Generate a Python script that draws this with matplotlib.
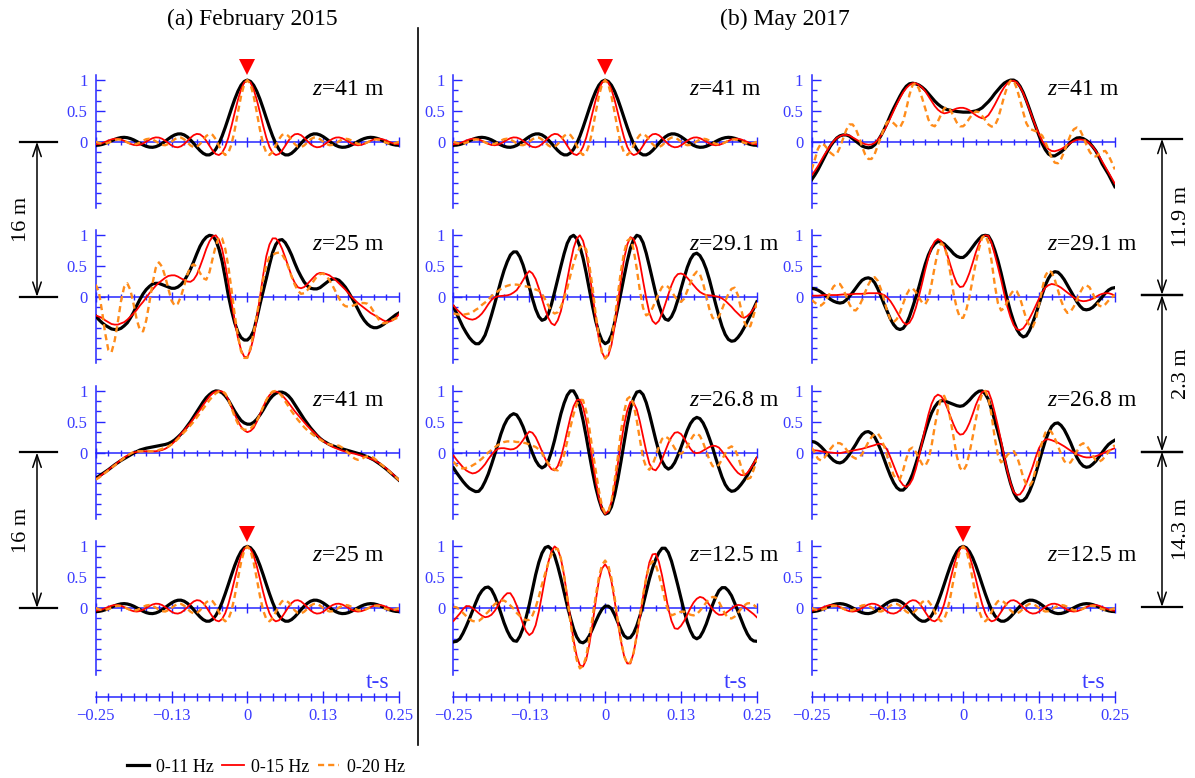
import numpy as np
import matplotlib
matplotlib.use("Agg")
import matplotlib.pyplot as plt
import matplotlib.transforms as mtransforms
from matplotlib.lines import Line2D
from matplotlib.patches import FancyArrowPatch
from matplotlib.ticker import FixedLocator, MultipleLocator, NullFormatter, FixedFormatter

plt.rcParams['font.family'] = ['Liberation Serif', 'DejaVu Serif']
plt.rcParams['mathtext.fontset'] = 'custom'
plt.rcParams['mathtext.rm'] = 'Liberation Serif'
plt.rcParams['mathtext.it'] = 'Liberation Serif:italic'

# ---------------------------------------------------------------- lag grids (s)
lag_192 = np.linspace(-0.25, 0.25, 97)     # 1/192 s spacing
lag_half = np.linspace(0.0, 0.25, 49)      # one-sided lags, 1/192 s spacing

band_labels = ['0-11 Hz', '0-15 Hz', '0-20 Hz']
x_tick_values = [-0.25, -0.125, 0.0, 0.125, 0.25]
x_tick_labels = ['\u22120.25', '\u22120.13', '0', '0.13', '0.25']
y_tick_values = [0.0, 0.5, 1.0]
y_tick_labels = ['0', '0.5', '1']

# ---------------------------------------------------------------- autocorrelations (one-sided)
acf_011 = [1.0, 0.978, 0.916, 0.817, 0.689, 0.541, 0.385, 0.232, 0.090, -0.030,
           -0.123, -0.184, -0.214, -0.214, -0.188, -0.143, -0.087, -0.027, 0.030, 0.077,
           0.110, 0.127, 0.126, 0.110, 0.082, 0.046, 0.007, -0.030, -0.060, -0.081,
           -0.091, -0.088, -0.075, -0.053, -0.026, 0.003, 0.030, 0.051, 0.065, 0.071,
           0.067, 0.055, 0.037, 0.015, -0.008, -0.029, -0.045, -0.055, -0.058]
acf_015 = [1.0, 0.960, 0.847, 0.676, 0.471, 0.259, 0.066, -0.085, -0.180, -0.217,
           -0.200, -0.143, -0.065, 0.015, 0.081, 0.120, 0.127, 0.106, 0.063, 0.011,
           -0.039, -0.075, -0.091, -0.085, -0.060, -0.024, 0.015, 0.048, 0.067, 0.070,
           0.057, 0.031, 0.000, -0.029, -0.050, -0.058, -0.052, -0.035, -0.011, 0.015,
           0.036, 0.048, 0.048, 0.037, 0.018, -0.004, -0.025, -0.038, -0.042]
acf_020 = [1.0, 0.930, 0.738, 0.471, 0.191, -0.040, -0.180, -0.216, -0.165, -0.065,
           0.040, 0.110, 0.127, 0.093, 0.028, -0.039, -0.083, -0.089, -0.060, -0.011,
           0.038, 0.067, 0.067, 0.040, 0.000, -0.037, -0.057, -0.052, -0.027, 0.007,
           0.036, 0.049, 0.041, 0.018, -0.012, -0.035, -0.042, -0.033, -0.010, 0.015,
           0.033, 0.037, 0.026, 0.005, -0.017, -0.031, -0.032, -0.020, 0.000]

# ---------------------------------------------------------------- Feb 2015, source 41 m -> 25 m
feb_src41_z25_011 = [-0.31, -0.37, -0.42, -0.46, -0.49, -0.52, -0.53, -0.53, -0.51, -0.47,
                     -0.42, -0.34, -0.25, -0.14, -0.04, 0.05, 0.12, 0.17, 0.21, 0.22,
                     0.22, 0.20, 0.18, 0.16, 0.14, 0.14, 0.16, 0.20, 0.26, 0.35,
                     0.45, 0.57, 0.70, 0.82, 0.91, 0.97, 1.00, 0.99, 0.92, 0.78,
                     0.58, 0.31, 0.02, -0.22, -0.42, -0.57, -0.66, -0.70, -0.70, -0.65,
                     -0.55, -0.35, -0.12, 0.09, 0.30, 0.52, 0.72, 0.85, 0.92, 0.93,
                     0.88, 0.79, 0.68, 0.55, 0.43, 0.33, 0.24, 0.18, 0.14, 0.13,
                     0.13, 0.15, 0.19, 0.23, 0.27, 0.29, 0.29, 0.27, 0.22, 0.16,
                     0.08, -0.01, -0.10, -0.20, -0.30, -0.38, -0.44, -0.48, -0.50, -0.50,
                     -0.48, -0.45, -0.41, -0.37, -0.33, -0.29, -0.26]
feb_src41_z25_015 = [-0.30, -0.32, -0.34, -0.38, -0.41, -0.44, -0.45, -0.45, -0.43, -0.41,
                     -0.37, -0.32, -0.27, -0.21, -0.14, -0.08, -0.01, 0.06, 0.12, 0.18,
                     0.23, 0.27, 0.31, 0.34, 0.35, 0.35, 0.33, 0.30, 0.275, 0.25,
                     0.245, 0.28, 0.36, 0.49, 0.63, 0.78, 0.90, 0.98, 1.00, 0.93,
                     0.78, 0.53, 0.23, -0.09, -0.39, -0.66, -0.86, -0.97, -0.98, -0.86,
                     -0.65, -0.35, -0.005, 0.35, 0.66, 0.85, 0.95, 0.95, 0.89, 0.78,
                     0.64, 0.49, 0.34, 0.23, 0.155, 0.14, 0.16, 0.21, 0.265, 0.32,
                     0.37, 0.39, 0.385, 0.37, 0.35, 0.31, 0.27, 0.22, 0.17, 0.12,
                     0.06, 0.00, -0.05, -0.10, -0.14, -0.18, -0.22, -0.26, -0.29, -0.32,
                     -0.35, -0.38, -0.40, -0.40, -0.38, -0.34, -0.28]
feb_src41_z25_020 = [0.20, 0.08, -0.23, -0.59, -0.86, -0.90, -0.71, -0.41, -0.07, 0.16,
                     0.22, 0.11, -0.12, -0.37, -0.54, -0.56, -0.38, -0.09, 0.22, 0.47,
                     0.56, 0.49, 0.33, 0.13, -0.06, -0.14, -0.11, 0.01, 0.18, 0.36,
                     0.49, 0.53, 0.485, 0.39, 0.305, 0.28, 0.40, 0.62, 0.83, 0.97,
                     0.95, 0.78, 0.49, 0.11, -0.29, -0.63, -0.88, -0.99, -0.99, -0.83,
                     -0.58, -0.29, -0.01, 0.29, 0.52, 0.65, 0.68, 0.71, 0.72, 0.69,
                     0.60, 0.48, 0.33, 0.20, 0.10, 0.05, 0.06, 0.11, 0.18, 0.26,
                     0.33, 0.37, 0.38, 0.34, 0.27, 0.18, 0.08, -0.02, -0.11, -0.15,
                     -0.16, -0.15, -0.13, -0.11, -0.10, -0.10, -0.11, -0.16, -0.24, -0.32,
                     -0.40, -0.43, -0.42, -0.40, -0.37, -0.35, -0.33]

# ---------------------------------------------------------------- Feb 2015, source 25 m -> 41 m
feb_src25_z41_011 = [-0.42, -0.385, -0.35, -0.315, -0.28, -0.24, -0.20, -0.165, -0.13, -0.10,
                     -0.07, -0.04, -0.01, 0.015, 0.04, 0.055, 0.07, 0.08, 0.09, 0.10,
                     0.11, 0.12, 0.13, 0.145, 0.17, 0.205, 0.25, 0.30, 0.36, 0.43,
                     0.50, 0.58, 0.66, 0.74, 0.82, 0.89, 0.94, 0.98, 1.00, 0.995,
                     0.97, 0.92, 0.85, 0.76, 0.67, 0.59, 0.52, 0.48, 0.46, 0.46,
                     0.49, 0.54, 0.61, 0.69, 0.78, 0.86, 0.92, 0.96, 0.98, 0.98,
                     0.96, 0.92, 0.86, 0.78, 0.70, 0.62, 0.54, 0.47, 0.40, 0.34,
                     0.28, 0.23, 0.19, 0.16, 0.13, 0.11, 0.09, 0.075, 0.06, 0.045,
                     0.03, 0.015, 0.00, -0.015, -0.03, -0.05, -0.07, -0.095, -0.12, -0.155,
                     -0.19, -0.23, -0.27, -0.315, -0.36, -0.405, -0.45]
feb_src25_z41_015 = [-0.43, -0.40, -0.36, -0.32, -0.28, -0.24, -0.20, -0.16, -0.12, -0.08,
                     -0.05, -0.02, 0.00, 0.01, 0.02, 0.02, 0.02, 0.02, 0.02, 0.02,
                     0.03, 0.04, 0.06, 0.09, 0.13, 0.18, 0.24, 0.30, 0.36, 0.42,
                     0.48, 0.55, 0.62, 0.69, 0.77, 0.84, 0.91, 0.96, 0.99, 1.00,
                     0.99, 0.94, 0.86, 0.74, 0.62, 0.51, 0.42, 0.36, 0.33, 0.35,
                     0.40, 0.50, 0.62, 0.74, 0.85, 0.93, 0.98, 0.99, 0.97, 0.93,
                     0.87, 0.81, 0.74, 0.67, 0.61, 0.55, 0.49, 0.43, 0.38, 0.33,
                     0.28, 0.23, 0.19, 0.15, 0.12, 0.09, 0.07, 0.05, 0.03, 0.015,
                     0.00, -0.01, -0.02, -0.035, -0.05, -0.065, -0.08, -0.10, -0.12, -0.15,
                     -0.18, -0.22, -0.26, -0.30, -0.35, -0.40, -0.45]
feb_src25_z41_020 = [-0.44, -0.41, -0.37, -0.33, -0.29, -0.25, -0.21, -0.17, -0.13, -0.09,
                     -0.05, -0.02, 0.01, 0.02, 0.02, 0.02, 0.02, 0.02, 0.02, 0.03,
                     0.04, 0.06, 0.08, 0.10, 0.13, 0.17, 0.22, 0.27, 0.33, 0.38,
                     0.44, 0.50, 0.57, 0.64, 0.71, 0.78, 0.85, 0.91, 0.96, 0.99,
                     1.00, 0.96, 0.86, 0.72, 0.58, 0.47, 0.40, 0.37, 0.37, 0.39,
                     0.44, 0.52, 0.62, 0.74, 0.85, 0.94, 0.99, 1.00, 0.97, 0.91,
                     0.83, 0.75, 0.67, 0.60, 0.53, 0.47, 0.41, 0.36, 0.32, 0.28,
                     0.25, 0.21, 0.18, 0.15, 0.13, 0.12, 0.12, 0.11, 0.08, 0.04,
                     -0.01, -0.06, -0.10, -0.12, -0.11, -0.08, -0.06, -0.06, -0.09, -0.13,
                     -0.18, -0.22, -0.27, -0.31, -0.36, -0.40, -0.45]

# ---------------------------------------------------------------- May 2017, source 41 m
may_src41_z291_011 = [-0.16, -0.27, -0.38, -0.49, -0.58, -0.66, -0.72, -0.76, -0.76, -0.71,
                      -0.62, -0.47, -0.30, -0.12, 0.07, 0.26, 0.43, 0.57, 0.68, 0.73,
                      0.73, 0.65, 0.52, 0.35, 0.16, -0.03, -0.20, -0.32, -0.38, -0.36,
                      -0.28, -0.12, 0.08, 0.29, 0.50, 0.70, 0.87, 0.97, 1.00, 0.945,
                      0.82, 0.63, 0.39, 0.12, -0.15, -0.39, -0.58, -0.71, -0.76, -0.73,
                      -0.62, -0.42, -0.18, 0.07, 0.33, 0.58, 0.79, 0.93, 1.00, 0.98,
                      0.88, 0.71, 0.50, 0.28, 0.06, -0.13, -0.28, -0.36, -0.38, -0.32,
                      -0.21, -0.05, 0.13, 0.31, 0.48, 0.61, 0.69, 0.71, 0.67, 0.58,
                      0.45, 0.28, 0.08, -0.12, -0.31, -0.48, -0.61, -0.69, -0.72, -0.71,
                      -0.66, -0.59, -0.50, -0.40, -0.30, -0.19, -0.08]
may_src41_z291_015 = [-0.14, -0.20, -0.25, -0.30, -0.34, -0.36, -0.37, -0.355, -0.32, -0.27,
                      -0.20, -0.12, -0.05, -0.01, 0.01, 0.015, 0.02, 0.025, 0.04, 0.07,
                      0.11, 0.185, 0.27, 0.36, 0.42, 0.38, 0.29, 0.14, -0.03, -0.20,
                      -0.34, -0.43, -0.46, -0.38, -0.23, 0.01, 0.28, 0.55, 0.79, 0.945,
                      1.00, 0.91, 0.71, 0.40, 0.04, -0.34, -0.68, -0.90, -1.00, -0.95,
                      -0.78, -0.48, -0.11, 0.275, 0.62, 0.85, 0.97, 0.94, 0.80, 0.55,
                      0.26, -0.02, -0.26, -0.39, -0.44, -0.39, -0.27, -0.12, 0.04, 0.19,
                      0.31, 0.37, 0.38, 0.36, 0.31, 0.25, 0.19, 0.13, 0.08, 0.05,
                      0.03, 0.025, 0.02, 0.01, 0.00, -0.025, -0.06, -0.11, -0.16, -0.22,
                      -0.27, -0.32, -0.34, -0.31, -0.26, -0.19, -0.10]
may_src41_z291_020 = [-0.27, -0.28, -0.29, -0.29, -0.28, -0.27, -0.25, -0.21, -0.18, -0.13,
                      -0.09, -0.045, 0.01, 0.05, 0.09, 0.13, 0.16, 0.18, 0.195, 0.20,
                      0.20, 0.19, 0.18, 0.17, 0.16, 0.14, 0.12, 0.10, 0.05, -0.04,
                      -0.14, -0.23, -0.27, -0.25, -0.16, -0.03, 0.14, 0.35, 0.54, 0.70,
                      0.80, 0.84, 0.77, 0.51, 0.16, -0.28, -0.63, -0.91, -1.00, -0.92,
                      -0.70, -0.36, 0.03, 0.42, 0.72, 0.91, 0.95, 0.77, 0.46, 0.10,
                      -0.18, -0.30, -0.27, -0.18, -0.06, 0.06, 0.16, 0.19, 0.16, 0.09,
                      0.01, -0.06, -0.08, -0.03, 0.10, 0.23, 0.35, 0.41, 0.37, 0.22,
                      0.01, -0.20, -0.34, -0.37, -0.32, -0.20, -0.07, 0.05, 0.13, 0.15,
                      0.03, -0.19, -0.40, -0.51, -0.47, -0.30, -0.10]

may_src41_z268_011 = [-0.25, -0.33, -0.40, -0.47, -0.53, -0.58, -0.61, -0.635, -0.63, -0.57,
                      -0.47, -0.35, -0.20, -0.04, 0.13, 0.30, 0.44, 0.54, 0.60, 0.63,
                      0.61, 0.53, 0.42, 0.28, 0.13, -0.01, -0.13, -0.21, -0.25, -0.22,
                      -0.14, 0.01, 0.20, 0.42, 0.63, 0.80, 0.93, 1.00, 1.00, 0.91,
                      0.75, 0.525, 0.26, -0.03, -0.31, -0.56, -0.76, -0.92, -1.00, -0.98,
                      -0.88, -0.69, -0.44, -0.15, 0.16, 0.46, 0.71, 0.88, 0.98, 0.995,
                      0.94, 0.81, 0.63, 0.42, 0.21, 0.02, -0.14, -0.23, -0.27, -0.24,
                      -0.165, -0.05, 0.08, 0.22, 0.36, 0.47, 0.54, 0.57, 0.55, 0.48,
                      0.37, 0.23, 0.08, -0.09, -0.25, -0.40, -0.52, -0.595, -0.63, -0.62,
                      -0.58, -0.52, -0.45, -0.37, -0.28, -0.19, -0.10]
may_src41_z268_015 = [-0.05, -0.12, -0.18, -0.24, -0.29, -0.32, -0.34, -0.33, -0.30, -0.25,
                      -0.19, -0.11, -0.04, 0.02, 0.06, 0.07, 0.07, 0.06, 0.05, 0.055,
                      0.08, 0.13, 0.20, 0.28, 0.34, 0.32, 0.25, 0.14, 0.02, -0.10,
                      -0.20, -0.27, -0.29, -0.22, -0.08, 0.12, 0.35, 0.57, 0.75, 0.85,
                      0.86, 0.74, 0.52, 0.21, -0.13, -0.45, -0.73, -0.915, -1.00, -0.955,
                      -0.80, -0.52, -0.19, 0.145, 0.45, 0.68, 0.82, 0.81, 0.70, 0.50,
                      0.26, 0.02, -0.18, -0.27, -0.29, -0.22, -0.11, 0.02, 0.15, 0.25,
                      0.32, 0.33, 0.30, 0.23, 0.14, 0.06, 0.00, -0.01, 0.00, 0.03,
                      0.06, 0.09, 0.11, 0.105, 0.08, 0.02, -0.05, -0.125, -0.20, -0.27,
                      -0.33, -0.365, -0.37, -0.33, -0.26, -0.18, -0.08]
may_src41_z268_020 = [-0.15, -0.21, -0.25, -0.26, -0.25, -0.24, -0.21, -0.18, -0.14, -0.10,
                      -0.05, 0.00, 0.04, 0.08, 0.12, 0.145, 0.17, 0.18, 0.18, 0.18,
                      0.17, 0.17, 0.16, 0.15, 0.13, 0.11, 0.09, 0.05, -0.01, -0.095,
                      -0.18, -0.24, -0.28, -0.29, -0.20, -0.04, 0.18, 0.41, 0.62, 0.78,
                      0.86, 0.85, 0.67, 0.39, 0.04, -0.29, -0.61, -0.87, -0.98, -0.97,
                      -0.79, -0.45, -0.08, 0.34, 0.66, 0.87, 0.91, 0.78, 0.52, 0.21,
                      -0.09, -0.24, -0.28, -0.20, -0.06, 0.09, 0.22, 0.26, 0.23, 0.16,
                      0.07, 0.00, -0.02, 0.02, 0.10, 0.20, 0.28, 0.31, 0.27, 0.16,
                      0.02, -0.12, -0.22, -0.24, -0.20, -0.11, -0.02, 0.07, 0.10, 0.06,
                      -0.06, -0.22, -0.36, -0.43, -0.41, -0.28, -0.12]

may_src41_z125_011 = [-0.55, -0.54, -0.50, -0.41, -0.30, -0.18, -0.05, 0.08, 0.20, 0.28,
                      0.33, 0.34, 0.30, 0.20, 0.07, -0.085, -0.24, -0.37, -0.47, -0.53,
                      -0.54, -0.46, -0.33, -0.15, 0.06, 0.30, 0.54, 0.74, 0.89, 0.98,
                      1.00, 0.955, 0.85, 0.68, 0.48, 0.26, 0.04, -0.16, -0.34, -0.47,
                      -0.55, -0.565, -0.53, -0.45, -0.34, -0.22, -0.11, -0.02, 0.03, 0.03,
                      -0.01, -0.11, -0.23, -0.35, -0.45, -0.49, -0.48, -0.41, -0.29, -0.13,
                      0.05, 0.26, 0.47, 0.645, 0.79, 0.90, 0.97, 0.97, 0.90, 0.76,
                      0.57, 0.37, 0.16, -0.05, -0.23, -0.37, -0.47, -0.50, -0.47, -0.38,
                      -0.26, -0.11, 0.05, 0.18, 0.28, 0.33, 0.33, 0.28, 0.20, 0.08,
                      -0.05, -0.18, -0.31, -0.42, -0.50, -0.535, -0.54]
may_src41_z125_015 = [-0.21, -0.15, -0.09, -0.02, 0.03, 0.03, 0.00, -0.04, -0.085, -0.125,
                      -0.15, -0.14, -0.11, -0.05, 0.03, 0.12, 0.19, 0.24, 0.24, 0.16,
                      0.04, -0.11, -0.26, -0.38, -0.44, -0.40, -0.28, -0.06, 0.21, 0.49,
                      0.74, 0.92, 1.00, 0.955, 0.80, 0.53, 0.19, -0.18, -0.52, -0.78,
                      -0.93, -0.95, -0.84, -0.59, -0.26, 0.11, 0.44, 0.64, 0.71, 0.63,
                      0.43, 0.12, -0.23, -0.54, -0.78, -0.90, -0.90, -0.73, -0.46, -0.15,
                      0.18, 0.49, 0.74, 0.87, 0.88, 0.75, 0.53, 0.26, -0.01, -0.21,
                      -0.33, -0.34, -0.29, -0.21, -0.11, 0.00, 0.09, 0.15, 0.18, 0.165,
                      0.12, 0.05, -0.02, -0.075, -0.11, -0.11, -0.09, -0.05, -0.01, 0.03,
                      0.05, 0.045, 0.02, -0.02, -0.06, -0.10, -0.15]
may_src41_z125_020 = [0.02, 0.01, -0.03, -0.08, -0.13, -0.18, -0.21, -0.22, -0.21, -0.17,
                      -0.11, -0.06, 0.00, 0.06, 0.10, 0.12, 0.12, 0.09, 0.04, -0.01,
                      -0.08, -0.13, -0.17, -0.20, -0.19, -0.12, 0.01, 0.18, 0.38, 0.56,
                      0.73, 0.87, 0.95, 0.96, 0.80, 0.53, 0.16, -0.22, -0.58, -0.84,
                      -0.98, -0.94, -0.79, -0.49, -0.16, 0.19, 0.49, 0.70, 0.77, 0.69,
                      0.48, 0.17, -0.20, -0.52, -0.78, -0.91, -0.88, -0.73, -0.44, -0.13,
                      0.21, 0.49, 0.69, 0.76, 0.70, 0.54, 0.34, 0.11, -0.05, -0.12,
                      -0.10, -0.08, -0.06, -0.06, -0.08, -0.11, -0.12, -0.10, -0.045, 0.02,
                      0.09, 0.15, 0.18, 0.17, 0.10, 0.00, -0.10, -0.16, -0.17, -0.14,
                      -0.08, -0.015, 0.04, 0.075, 0.08, 0.05, 0.01]

# ---------------------------------------------------------------- May 2017, source 12.5 m
may_src125_z41_011 = [-0.62, -0.545, -0.46, -0.36, -0.26, -0.16, -0.07, 0.00, 0.06, 0.095,
                      0.11, 0.11, 0.09, 0.05, 0.01, -0.03, -0.07, -0.09, -0.10, -0.09,
                      -0.05, 0.015, 0.10, 0.20, 0.31, 0.43, 0.54, 0.64, 0.74, 0.83,
                      0.90, 0.94, 0.95, 0.94, 0.92, 0.885, 0.84, 0.78, 0.72, 0.66,
                      0.61, 0.57, 0.54, 0.52, 0.51, 0.50, 0.49, 0.485, 0.48, 0.48,
                      0.48, 0.49, 0.50, 0.52, 0.55, 0.60, 0.65, 0.71, 0.78, 0.84,
                      0.90, 0.95, 0.98, 1.00, 1.00, 0.97, 0.90, 0.80, 0.67, 0.53,
                      0.38, 0.24, 0.10, -0.03, -0.13, -0.20, -0.23, -0.23, -0.20, -0.165,
                      -0.12, -0.065, -0.01, 0.03, 0.06, 0.065, 0.05, 0.02, -0.02, -0.08,
                      -0.15, -0.25, -0.36, -0.445, -0.53, -0.63, -0.73]
may_src125_z41_015 = [-0.55, -0.48, -0.40, -0.31, -0.22, -0.14, -0.06, 0.01, 0.06, 0.09,
                      0.11, 0.11, 0.10, 0.07, 0.04, 0.01, -0.02, -0.04, -0.05, -0.045,
                      -0.02, 0.03, 0.10, 0.18, 0.28, 0.39, 0.50, 0.61, 0.71, 0.80,
                      0.87, 0.92, 0.95, 0.95, 0.92, 0.88, 0.82, 0.74, 0.66, 0.58,
                      0.52, 0.48, 0.46, 0.47, 0.49, 0.52, 0.54, 0.55, 0.55, 0.535,
                      0.51, 0.47, 0.43, 0.40, 0.38, 0.39, 0.43, 0.51, 0.60, 0.70,
                      0.80, 0.885, 0.95, 0.985, 0.99, 0.96, 0.89, 0.79, 0.66, 0.52,
                      0.38, 0.245, 0.12, 0.015, -0.07, -0.12, -0.15, -0.155, -0.14, -0.12,
                      -0.09, -0.055, -0.02, 0.01, 0.03, 0.035, 0.03, 0.01, -0.03, -0.08,
                      -0.15, -0.23, -0.32, -0.41, -0.50, -0.59, -0.68]
may_src125_z41_020 = [-0.46, -0.30, -0.12, -0.03, -0.05, -0.11, -0.18, -0.22, -0.20, -0.09,
                      0.05, 0.19, 0.28, 0.28, 0.21, 0.08, -0.08, -0.21, -0.28, -0.28,
                      -0.20, -0.06, 0.08, 0.23, 0.32, 0.34, 0.30, 0.25, 0.23, 0.33,
                      0.53, 0.76, 0.92, 0.95, 0.86, 0.71, 0.54, 0.36, 0.27, 0.25,
                      0.33, 0.44, 0.54, 0.56, 0.51, 0.41, 0.31, 0.25, 0.25, 0.30,
                      0.38, 0.45, 0.49, 0.48, 0.42, 0.35, 0.28, 0.245, 0.26, 0.37,
                      0.55, 0.74, 0.90, 0.99, 0.99, 0.86, 0.68, 0.48, 0.30, 0.21,
                      0.19, 0.17, 0.14, 0.10, 0.00, -0.13, -0.26, -0.34, -0.35, -0.28,
                      -0.16, -0.02, 0.11, 0.20, 0.23, 0.19, 0.08, -0.05, -0.16, -0.23,
                      -0.24, -0.20, -0.16, -0.15, -0.22, -0.33, -0.45]

may_src125_z291_011 = [0.14, 0.13, 0.11, 0.08, 0.04, 0.00, -0.04, -0.07, -0.09, -0.10,
                       -0.09, -0.05, 0.01, 0.07, 0.14, 0.21, 0.27, 0.30, 0.31, 0.29,
                       0.23, 0.13, 0.01, -0.12, -0.24, -0.36, -0.45, -0.51, -0.53, -0.51,
                       -0.44, -0.32, -0.17, -0.01, 0.16, 0.35, 0.53, 0.68, 0.79, 0.86,
                       0.90, 0.89, 0.86, 0.81, 0.76, 0.70, 0.66, 0.64, 0.64, 0.68,
                       0.74, 0.81, 0.88, 0.94, 0.99, 1.00, 0.99, 0.90, 0.76, 0.59,
                       0.39, 0.17, -0.05, -0.24, -0.40, -0.53, -0.61, -0.65, -0.63, -0.545,
                       -0.42, -0.28, -0.12, 0.04, 0.19, 0.30, 0.38, 0.41, 0.40, 0.35,
                       0.28, 0.19, 0.10, 0.01, -0.08, -0.15, -0.20, -0.21, -0.20, -0.17,
                       -0.12, -0.06, 0.00, 0.06, 0.11, 0.14, 0.15]
may_src125_z291_015 = [0.02, 0.02, 0.02, 0.025, 0.03, 0.03, 0.03, 0.03, 0.03, 0.035,
                       0.04, 0.04, 0.04, 0.045, 0.05, 0.05, 0.05, 0.055, 0.06, 0.06,
                       0.06, 0.06, 0.05, 0.03, -0.01, -0.07, -0.15, -0.24, -0.33, -0.41,
                       -0.45, -0.42, -0.33, -0.18, 0.01, 0.22, 0.44, 0.64, 0.80, 0.90,
                       0.94, 0.91, 0.82, 0.68, 0.51, 0.35, 0.22, 0.16, 0.17, 0.26,
                       0.39, 0.55, 0.72, 0.86, 0.97, 1.00, 0.99, 0.87, 0.69, 0.49,
                       0.28, 0.05, -0.16, -0.33, -0.46, -0.525, -0.54, -0.51, -0.44, -0.35,
                       -0.25, -0.14, -0.03, 0.07, 0.15, 0.19, 0.21, 0.20, 0.18, 0.15,
                       0.11, 0.07, 0.03, -0.01, -0.04, -0.06, -0.07, -0.065, -0.05, -0.03,
                       0.00, 0.03, 0.05, 0.06, 0.06, 0.045, 0.02]
may_src125_z291_020 = [-0.05, -0.09, -0.13, -0.14, -0.095, -0.02, 0.08, 0.17, 0.21, 0.21,
                       0.13, 0.01, -0.12, -0.21, -0.22, -0.16, -0.05, 0.08, 0.20, 0.29,
                       0.32, 0.26, 0.12, -0.05, -0.24, -0.37, -0.41, -0.36, -0.25, -0.11,
                       0.03, 0.12, 0.14, 0.08, -0.01, -0.09, -0.12, -0.03, 0.21, 0.49,
                       0.74, 0.87, 0.83, 0.65, 0.37, 0.05, -0.19, -0.34, -0.34, -0.21,
                       0.01, 0.28, 0.55, 0.78, 0.96, 1.00, 0.88, 0.58, 0.20, -0.10,
                       -0.22, -0.18, -0.08, 0.04, 0.11, 0.09, -0.02, -0.19, -0.36, -0.47,
                       -0.49, -0.37, -0.13, 0.13, 0.34, 0.43, 0.40, 0.28, 0.11, -0.06,
                       -0.19, -0.26, -0.24, -0.16, -0.05, 0.07, 0.16, 0.19, 0.155, 0.06,
                       -0.055, -0.14, -0.16, -0.12, -0.06, -0.01, 0.03]

may_src125_z268_011 = [0.18, 0.17, 0.14, 0.095, 0.04, -0.02, -0.08, -0.13, -0.16, -0.17,
                       -0.15, -0.10, -0.03, 0.05, 0.13, 0.22, 0.29, 0.33, 0.34, 0.31,
                       0.25, 0.15, 0.03, -0.11, -0.25, -0.38, -0.49, -0.57, -0.61, -0.61,
                       -0.56, -0.47, -0.35, -0.19, -0.02, 0.16, 0.34, 0.50, 0.64, 0.74,
                       0.81, 0.84, 0.84, 0.82, 0.80, 0.78, 0.76, 0.75, 0.76, 0.80,
                       0.85, 0.91, 0.96, 0.995, 1.00, 0.95, 0.86, 0.70, 0.52, 0.34,
                       0.14, -0.09, -0.31, -0.50, -0.65, -0.745, -0.79, -0.78, -0.73, -0.63,
                       -0.50, -0.34, -0.16, 0.02, 0.19, 0.32, 0.42, 0.47, 0.48, 0.44,
                       0.37, 0.27, 0.16, 0.035, -0.08, -0.165, -0.22, -0.24, -0.23, -0.19,
                       -0.14, -0.07, 0.00, 0.07, 0.13, 0.17, 0.20]
may_src125_z268_015 = [0.04, 0.035, 0.03, 0.02, 0.01, 0.005, 0.00, -0.005, -0.01, -0.01,
                       0.00, 0.01, 0.02, 0.03, 0.04, 0.05, 0.06, 0.075, 0.09, 0.105,
                       0.12, 0.14, 0.14, 0.11, 0.04, -0.08, -0.21, -0.34, -0.46, -0.53,
                       -0.56, -0.52, -0.43, -0.27, -0.07, 0.16, 0.40, 0.615, 0.79, 0.90,
                       0.94, 0.915, 0.84, 0.72, 0.58, 0.45, 0.34, 0.29, 0.30, 0.37,
                       0.48, 0.62, 0.77, 0.89, 0.98, 1.00, 0.99, 0.85, 0.65, 0.43,
                       0.19, -0.06, -0.30, -0.50, -0.64, -0.69, -0.68, -0.61, -0.50, -0.37,
                       -0.23, -0.07, 0.07, 0.16, 0.21, 0.215, 0.20, 0.18, 0.16, 0.13,
                       0.10, 0.065, 0.03, 0.00, -0.03, -0.05, -0.07, -0.08, -0.08, -0.07,
                       -0.06, -0.04, -0.02, 0.005, 0.03, 0.05, 0.07]
may_src125_z268_020 = [0.08, 0.00, -0.10, -0.13, -0.09, -0.02, 0.06, 0.12, 0.155, 0.15,
                       0.12, 0.05, -0.02, -0.07, -0.10, -0.08, -0.03, 0.07, 0.17, 0.25,
                       0.30, 0.31, 0.23, 0.10, -0.065, -0.22, -0.37, -0.43, -0.43, -0.29,
                       -0.10, 0.05, 0.08, 0.01, -0.09, -0.19, -0.22, -0.12, 0.11, 0.42,
                       0.69, 0.88, 0.92, 0.79, 0.53, 0.24, -0.06, -0.25, -0.30, -0.21,
                       -0.01, 0.25, 0.53, 0.79, 0.95, 1.00, 0.88, 0.60, 0.24, -0.04,
                       -0.16, -0.12, -0.04, 0.01, 0.02, -0.06, -0.22, -0.40, -0.52, -0.55,
                       -0.46, -0.26, -0.04, 0.17, 0.32, 0.37, 0.33, 0.23, 0.11, -0.03,
                       -0.14, -0.18, -0.16, -0.08, 0.02, 0.12, 0.15, 0.12, 0.04, -0.05,
                       -0.13, -0.15, -0.12, -0.06, 0.01, 0.07, 0.12]

# ---------------------------------------------------------------- figure layout (pixels)
W, H = 1195, 778
fig = plt.figure(figsize=(W / 100, H / 100), dpi=100)

AXIS_BLUE = '#2626ff'
LABEL_BLUE = '#3a3aff'
COLORS = ['black', '#ff0000', '#ff8c1a']
WIDTHS = [2.3, 1.3, 1.7]
STYLES = ['-', '-', (0, (2.6, 1.7))]

col_left = [95.7, 453.5, 811.5]
col_width = 303.3
row_zero = [141.7, 296.9, 452.5, 608.0]
unit = 61.6
ylo, yhi = -1.08, 1.08
time_axis_y = 697.0


def full_acf(half):
    half = np.asarray(half)
    return np.concatenate([half[:0:-1], half])


acf_curves = [full_acf(acf_011), full_acf(acf_015), full_acf(acf_020)]

# (row, column, depth label, curves for 0-11 / 0-15 / 0-20 Hz, source marker)
panels = [
    (0, 0, '41', acf_curves, True),
    (1, 0, '25', [feb_src41_z25_011, feb_src41_z25_015, feb_src41_z25_020], False),
    (2, 0, '41', [feb_src25_z41_011, feb_src25_z41_015, feb_src25_z41_020], False),
    (3, 0, '25', acf_curves, True),
    (0, 1, '41', acf_curves, True),
    (1, 1, '29.1', [may_src41_z291_011, may_src41_z291_015, may_src41_z291_020], False),
    (2, 1, '26.8', [may_src41_z268_011, may_src41_z268_015, may_src41_z268_020], False),
    (3, 1, '12.5', [may_src41_z125_011, may_src41_z125_015, may_src41_z125_020], False),
    (0, 2, '41', [may_src125_z41_011, may_src125_z41_015, may_src125_z41_020], False),
    (1, 2, '29.1', [may_src125_z291_011, may_src125_z291_015, may_src125_z291_020], False),
    (2, 2, '26.8', [may_src125_z268_011, may_src125_z268_015, may_src125_z268_020], False),
    (3, 2, '12.5', acf_curves, True),
]

label_x = [0.712, 0.776, 0.776]
legend_handles = None

for row, col, depth, curves, source in panels:
    zero = row_zero[row]
    bottom_px = zero - ylo * unit
    height_px = (yhi - ylo) * unit
    ax = fig.add_axes([col_left[col] / W, 1 - bottom_px / H, col_width / W, height_px / H])
    ax.patch.set_visible(False)
    ax.set_xlim(-0.25, 0.25)
    ax.set_ylim(ylo, yhi)

    handles = []
    for vals, c, lw, ls, lab in zip(curves, COLORS, WIDTHS, STYLES, band_labels):
        h, = ax.plot(lag_192, vals, color=c, lw=lw, ls=ls, label=lab, zorder=3,
                     solid_joinstyle='round')
        handles.append(h)
    if legend_handles is None:
        legend_handles = handles

    if source:
        ax.plot([0.0], [1.205], ls='none', marker='v', ms=11, color='#ff0000',
                markeredgewidth=0, clip_on=False, zorder=6)

    for s in ('top', 'right'):
        ax.spines[s].set_visible(False)
    ax.spines['left'].set_color(AXIS_BLUE)
    ax.spines['left'].set_linewidth(1.1)
    ax.spines['bottom'].set_position(('data', 0))
    ax.spines['bottom'].set_color(AXIS_BLUE)
    ax.spines['bottom'].set_linewidth(1.1)

    ax.xaxis.set_major_locator(FixedLocator(x_tick_values))
    ax.xaxis.set_minor_locator(MultipleLocator(1 / 48))
    ax.xaxis.set_major_formatter(NullFormatter())
    ax.tick_params(axis='x', which='major', direction='inout', length=6.5, width=1.0, color=AXIS_BLUE)
    ax.tick_params(axis='x', which='minor', direction='inout', length=5.0, width=1.0, color=AXIS_BLUE)

    ax.yaxis.set_major_locator(FixedLocator(y_tick_values))
    ax.yaxis.set_major_formatter(FixedFormatter(y_tick_labels))
    ax.yaxis.set_minor_locator(FixedLocator(np.arange(-6, 7) / 6))
    ax.tick_params(axis='y', which='major', direction='in', length=6.8, width=1.0, color=AXIS_BLUE,
                   labelcolor=LABEL_BLUE, labelsize=12, pad=6)
    ax.tick_params(axis='y', which='minor', direction='in', length=3.8, width=1.0, color=AXIS_BLUE)

    trans = mtransforms.blended_transform_factory(ax.transAxes, ax.transData)
    ax.text(label_x[col], 0.76, r'$z$=' + depth + ' m', transform=trans, ha='left',
            va='baseline', fontsize=17, color='black')

# time axes under each column
for col in range(3):
    tax = fig.add_axes([col_left[col] / W, 1 - time_axis_y / H, col_width / W, 0.0005])
    tax.patch.set_visible(False)
    tax.set_xlim(-0.25, 0.25)
    tax.set_yticks([])
    for s in ('top', 'right', 'left'):
        tax.spines[s].set_visible(False)
    tax.spines['bottom'].set_color(AXIS_BLUE)
    tax.spines['bottom'].set_linewidth(1.1)
    tax.xaxis.set_major_locator(FixedLocator(x_tick_values))
    tax.xaxis.set_major_formatter(FixedFormatter(x_tick_labels))
    tax.xaxis.set_minor_locator(MultipleLocator(1 / 48))
    tax.tick_params(axis='x', which='major', direction='inout', length=8, width=1.0, color=AXIS_BLUE,
                    labelcolor=LABEL_BLUE, labelsize=12, pad=4)
    tax.tick_params(axis='x', which='minor', direction='inout', length=5.5, width=1.0, color=AXIS_BLUE)
    fig.text((col_left[col] + 0.97 * col_width) / W, 1 - 682 / H, 't-s', ha='right', va='center',
             fontsize=17, color=LABEL_BLUE)

# titles and separator
fig.text(252 / W, 1 - 19 / H, '(a) February 2015', ha='center', va='center', fontsize=17)
fig.text(785 / W, 1 - 19 / H, '(b) May 2017', ha='center', va='center', fontsize=17)
fig.add_artist(Line2D([418 / W, 418 / W], [1 - 28 / H, 1 - 745 / H], color='black', lw=1.2,
                      transform=fig.transFigure))


# depth-separation bars
def depth_bar(x0, x1, xa, y0, y1, text, xt):
    for y in (y0, y1):
        fig.add_artist(Line2D([x0 / W, x1 / W], [1 - y / H, 1 - y / H], color='black', lw=1.6,
                              transform=fig.transFigure))
    fig.add_artist(FancyArrowPatch((xa / W, 1 - y0 / H), (xa / W, 1 - y1 / H), transform=fig.transFigure,
                                   arrowstyle='<->,head_length=0.5,head_width=0.17', mutation_scale=18,
                                   lw=1.1, color='black', shrinkA=0, shrinkB=0))
    fig.text(xt / W, 1 - (y0 + y1) / 2 / H, text, rotation=90, ha='center', va='center', fontsize=16)


depth_bar(20, 57, 37, row_zero[0], row_zero[1], '16 m', 22)
depth_bar(20, 57, 37, row_zero[2], row_zero[3], '16 m', 22)
depth_bar(1142, 1182, 1162, row_zero[0] - 3, row_zero[1] - 2, '11.9 m', 1181)
depth_bar(1142, 1182, 1162, row_zero[1] - 2, row_zero[2] - 1, '2.3 m', 1181)
depth_bar(1142, 1182, 1162, row_zero[2] - 1, row_zero[3] - 1, '14.3 m', 1181)

fig.legend(handles=legend_handles, labels=band_labels, loc='center', bbox_to_anchor=(266 / W, 1 - 767 / H),
           ncol=3, frameon=False, fontsize=13, handlelength=1.2, handletextpad=0.4, columnspacing=0.45,
           borderpad=0.0)

fig.savefig('out.png', dpi=100)
